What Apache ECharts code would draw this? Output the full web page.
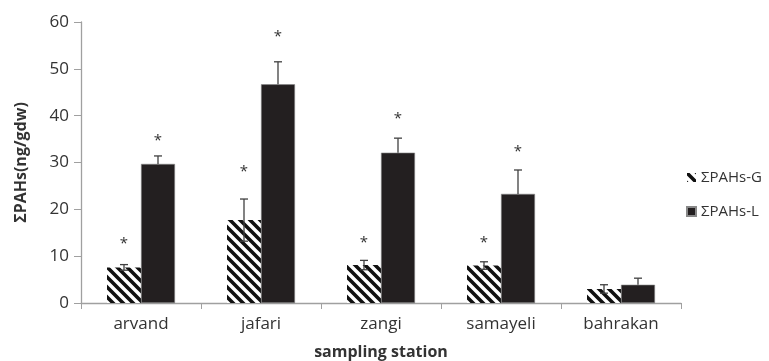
<!DOCTYPE html>
<html><head><meta charset="utf-8">
<script src="https://cdn.jsdelivr.net/npm/echarts@6/dist/echarts.min.js"></script>
<style>html,body{margin:0;padding:0;background:#fff}#c{width:769px;height:361px}</style>
</head><body><div id="c"></div>
<script>
var categories = ['arvand', 'jafari', 'zangi', 'samayeli', 'bahrakan'];
var valuesG = [7.6, 17.7, 8.1, 8.0, 3.0];
var errorsG = [0.6, 4.5, 1.0, 0.8, 0.9];
var valuesL = [29.7, 46.7, 32.1, 23.3, 3.9];
var errorsL = [1.7, 4.8, 3.1, 5.1, 1.4];
var starsG = [13.0, 28.4, 13.2, 13.2, null];
var starsL = [35.0, 57.2, 39.7, 32.7, null];
var yTicks = [0, 10, 20, 30, 40, 50, 60];

function hatch() {
  var c = document.createElement('canvas');
  c.width = 10; c.height = 10;
  var g = c.getContext('2d');
  g.fillStyle = '#fff'; g.fillRect(0, 0, 10, 10);
  g.strokeStyle = '#111'; g.lineWidth = 3.6;
  g.beginPath();
  for (var k = -2; k <= 2; k++) {
    g.moveTo(k * 10 - 2, -2); g.lineTo(k * 10 + 12, 12);
  }
  g.stroke();
  return c;
}
var pat = { image: hatch(), repeat: 'repeat' };

function errSeries(vals, errs, side, upperOnly) {
  return {
    type: 'custom', z: 5, silent: true,
    data: vals.map(function (v, i) { return [i, v, errs[i]]; }),
    renderItem: function (params, api) {
      var i = api.value(0), v = api.value(1), e = api.value(2);
      var hi = api.coord([i, v + e]), lo = api.coord([i, upperOnly ? v : v - e]);
      var x = hi[0] + side * 17;
      var s = { stroke: '#404040', lineWidth: 1.3 };
      var ch = [
        { type: 'line', shape: { x1: x, y1: hi[1], x2: x, y2: lo[1] }, style: s },
        { type: 'line', shape: { x1: x - 4, y1: hi[1], x2: x + 4, y2: hi[1] }, style: s }
      ];
      if (!upperOnly) ch.push({ type: 'line', shape: { x1: x - 4, y1: lo[1], x2: x + 4, y2: lo[1] }, style: s });
      return { type: 'group', children: ch };
    }
  };
}
function starSeries(vals, side) {
  return {
    type: 'custom', z: 6, silent: true,
    data: vals.map(function (v, i) { return v == null ? [i, NaN] : [i, v]; }),
    renderItem: function (params, api) {
      var v = api.value(1);
      if (isNaN(v)) return null;
      var p = api.coord([api.value(0), v]);
      return { type: 'text', style: { text: '*', x: p[0] + side * 17, y: p[1] + 2, align: 'center', verticalAlign: 'middle', font: '15px "Open Sans"', fill: '#333' } };
    }
  };
}

var chart = echarts.init(document.getElementById('c'));
chart.setOption({
  animation: false,
  textStyle: { fontFamily: 'Open Sans' },
  grid: { left: 81, right: 88, top: 22, bottom: 58, outerBoundsMode: 'none', containLabel: false },
  legend: {
    orient: 'vertical', left: 681, top: 165, itemWidth: 9, itemHeight: 9, itemGap: 19,
    textStyle: { fontSize: 15, color: '#333', fontFamily: 'Open Sans' },
    data: [{ name: 'ΣPAHs-G', icon: 'rect' }, { name: 'ΣPAHs-L', icon: 'rect' }]
  },
  xAxis: {
    type: 'category', data: categories,
    name: 'sampling station', nameLocation: 'middle', nameGap: 41,
    nameTextStyle: { fontSize: 16, fontWeight: 'bold', color: '#333' },
    axisLine: { lineStyle: { color: '#a0a0a0', width: 1.3 } },
    axisTick: { show: true, length: 6, lineStyle: { color: '#a0a0a0' } },
    axisLabel: { fontSize: 17, color: '#333', margin: 13 }
  },
  yAxis: {
    type: 'value', min: yTicks[0], max: yTicks[yTicks.length - 1], interval: 10,
    name: 'ΣPAHs(ng/gdw)', nameLocation: 'middle', nameGap: 52,
    nameTextStyle: { fontSize: 16, fontWeight: 'bold', color: '#333' },
    axisLine: { show: true, lineStyle: { color: '#a0a0a0', width: 1.3 } },
    axisTick: { show: true, length: 7, lineStyle: { color: '#a0a0a0' } },
    splitLine: { show: false },
    axisLabel: { fontSize: 17, color: '#333', margin: 12 }
  },
  series: [
    { name: 'ΣPAHs-G', type: 'bar', data: valuesG, barWidth: 34, barGap: '0%', itemStyle: { color: pat } },
    { name: 'ΣPAHs-L', type: 'bar', data: valuesL, barWidth: 34, barGap: '0%', itemStyle: { color: '#231f20', borderColor: '#888', borderWidth: 0.6 } },
    errSeries(valuesG, errorsG, -1, false),
    errSeries(valuesL, errorsL, 1, true),
    starSeries(starsG, -1),
    starSeries(starsL, 1)
  ]
});
</script></body></html>
